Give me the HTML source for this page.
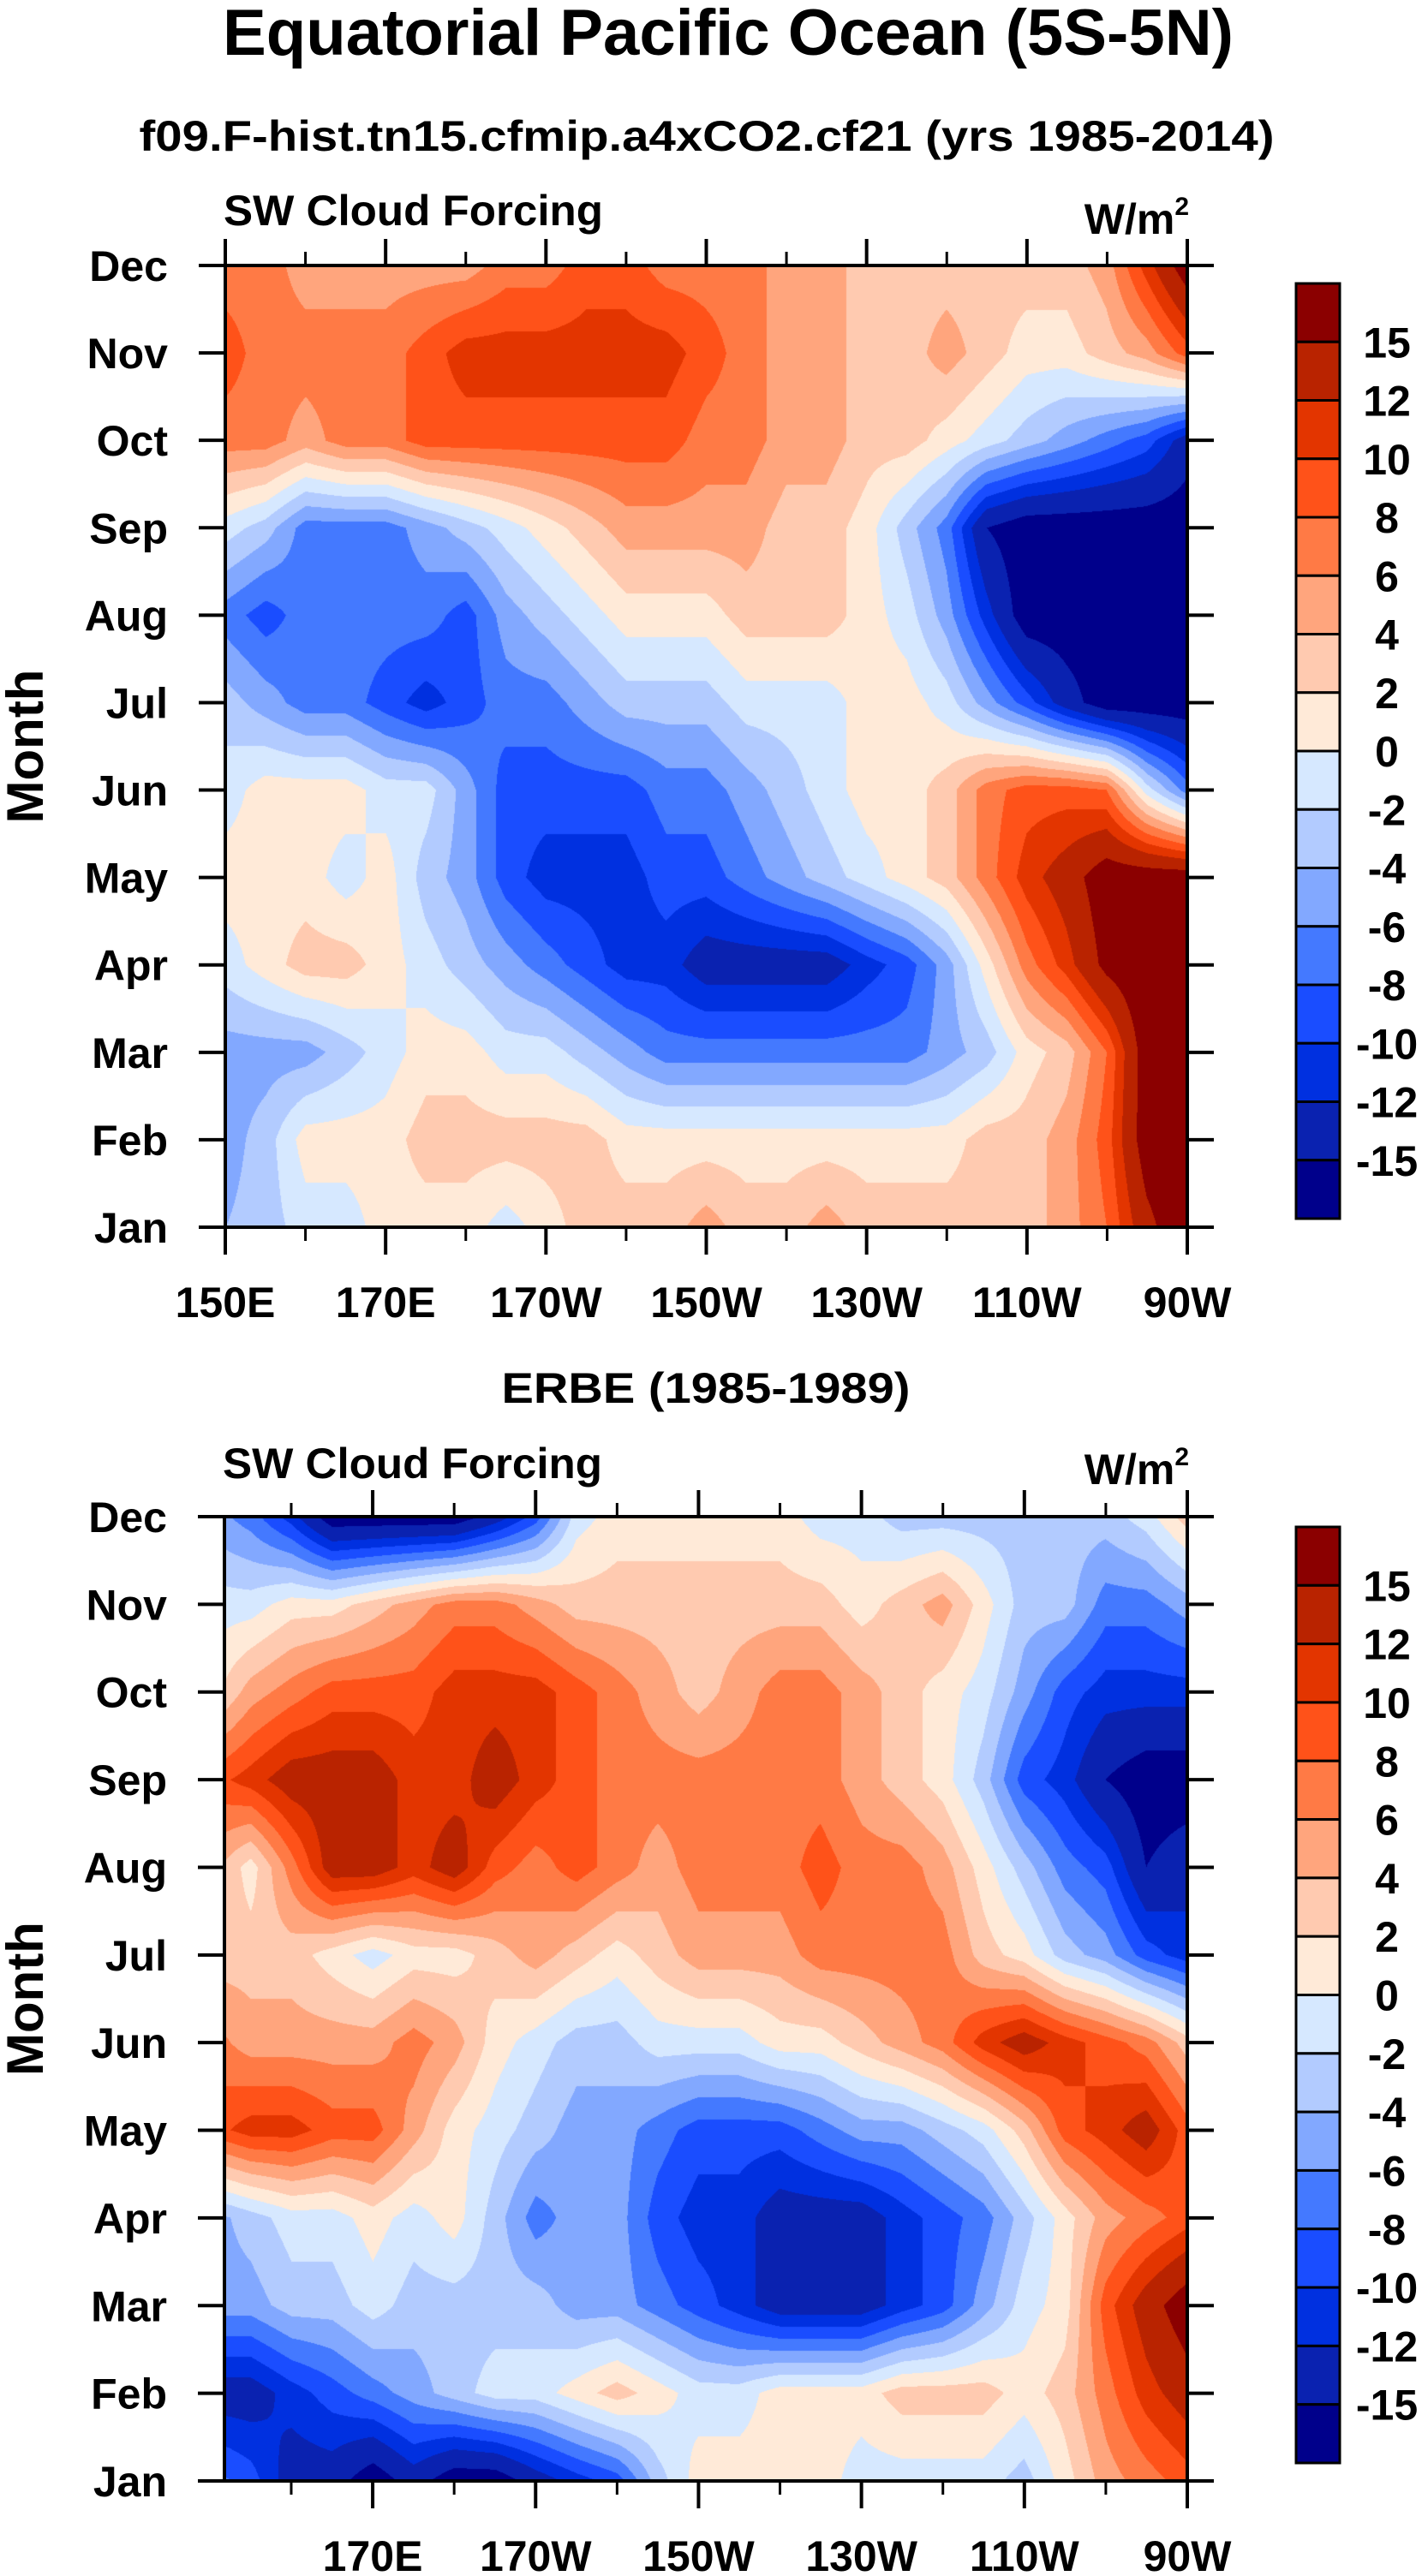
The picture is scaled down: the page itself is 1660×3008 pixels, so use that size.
<!DOCTYPE html>
<html><head><meta charset="utf-8"><title>Equatorial Pacific Ocean SW Cloud Forcing</title>
<style>
html,body{margin:0;padding:0;background:#fff;}
#wrap{position:relative;width:1660px;height:3008px;overflow:hidden;}
canvas{position:absolute;}
svg{position:absolute;left:0;top:0;}
text{font-family:"Liberation Sans",Arial,sans-serif;font-weight:bold;fill:#000;}
</style></head>
<body>
<div id="wrap">
<canvas id="c1" width="1123" height="1123" style="left:263px;top:310px"></canvas>
<canvas id="c2" width="1124" height="1126" style="left:262px;top:1771px"></canvas>
<svg id="ov" width="1660" height="3008" xmlns="http://www.w3.org/2000/svg">
<text x="850" y="64" font-size="76" text-anchor="middle" textLength="1180" lengthAdjust="spacingAndGlyphs">Equatorial Pacific Ocean (5S-5N)</text>
<text x="825" y="176" font-size="50" text-anchor="middle" textLength="1325" lengthAdjust="spacingAndGlyphs">f09.F-hist.tn15.cfmip.a4xCO2.cf21 (yrs 1985-2014)</text>
<text x="824" y="1638" font-size="50" text-anchor="middle" textLength="477" lengthAdjust="spacingAndGlyphs">ERBE (1985-1989)</text>
</svg>
</div>
<script>
// ---- data ----
var months = ["Jan","Feb","Mar","Apr","May","Jun","Jul","Aug","Sep","Oct","Nov","Dec"];
var lons = [150,155,160,165,170,175,180,185,190,195,200,205,210,215,220,225,230,235,240,245,250,255,260,265,270];
var levels = [-15,-12,-10,-8,-6,-4,-2,0,2,4,6,8,10,12,15];
var levelLabels = ["-15","-12","-10","-8","-6","-4","-2","0","2","4","6","8","10","12","15"];
var colors = ["#00008B","#0A22B0","#0030E0","#1A4DFF","#4479FF","#82A8FF","#B2CBFF","#D6E8FF","#FFEAD8","#FFCAB0","#FFA57D","#FF7A45","#FF5219","#E33500","#B92300","#8B0000"];
var xTickLons = [150,170,190,210,230,250,270];
var xTickLabels = ["150E","170E","170W","150W","130W","110W","90W"];
var xMinorLons = [160,180,200,220,240,260];
// model SWCF, rows Jan..Dec, columns = lons
var modelJan=[-4,-3,-1,-1,1,1,1,-1,1,3,3,3,5,3,3,5,3,3,3,3,3,5,8,14,18];
var modelFeb=[-5,-3,1,1,1,3,3,3,3,3,1,1,1,1,1,1,1,1,1,3,3,5,9,17,18];
var modelMar=[-5,-5,-5,-3,-1,1,1,-1,-1,-3,-5,-7,-7,-7,-7,-7,-7,-7,-5,-3,1,3,8,17,18];
var modelApr=[-1,1,3,3,1,-1,-3,-5,-7,-9,-11,-11,-13.5,-13.5,-13.5,-13.5,-11,-9,-5,1,7,11,16,18,18];
var modelMay=[1,1,1,-1,1,-3,-5,-9,-11,-11,-11,-9,-9,-7,-5,-3,-1,1,3,7,11,13.5,17,17,17];
var modelJun=[-1,1,1,1,-1,-1,-5,-9,-9,-9,-9,-7,-7,-5,-3,-1,1,1,3,7,9,9,8,-1,-7];
var modelJul=[-3,-5,-7,-7,-9,-11,-9,-7,-7,-5,-3,-3,-3,-1,-1,-1,1,1,-1,-5,-9,-13.5,-17,-17,-17];
var modelAug=[-7,-9,-7,-7,-7,-7,-9,-5,-3,-1,1,1,1,3,3,3,1,-1,-5,-11,-17,-17,-17,-17,-17];
var modelSep=[-1,-3,-7,-7,-7,-5,-3,-1,1,3,5,5,5,5,3,3,1,-3,-7,-15,-17,-17,-17,-17,-17];
var modelOct=[7,7,5,7,7,9,9,9,9,9,9,9,7,7,5,5,3,3,1,-1,-3,-5,-7,-9,-13.5];
var modelNov=[9,7,7,7,7,9,11,11,11,11,11,11,9,7,5,5,3,3,5,3,1,1,3,5,9];
var modelDec=[7,7,5,5,5,5,5,7,7,9,9,7,7,7,5,5,3,3,3,3,3,3,5,11,17];
// ERBE SWCF
var erbeJan=[-7,-9,-13.5,-13.5,-17,-13.5,-17,-17,-13.5,-11,-9,-3,1,1,1,1,-1,-1,-1,-1,-3,1,5,7,9];
var erbeFeb=[-13.5,-13.5,-11,-9,-7,-5,-3,-1,-1,1,3,1,-1,-1,1,1,1,3,3,3,1,3,7,11,13.5];
var erbeMar=[-5,-5,-3,-3,-1,-3,-3,-3,-3,-5,-5,-7,-9,-11,-13.5,-13.5,-13.5,-11,-9,-5,-1,1,9,13.5,17];
var erbeApr=[-5,-3,-1,-1,1,-1,1,-3,-7,-5,-5,-9,-11,-11,-13.5,-13.5,-13.5,-11,-9,-7,-3,1,5,7,9];
var erbeMay=[9,11,11,9,9,5,1,-1,-3,-5,-5,-7,-9,-9,-9,-7,-5,-5,-3,-1,3,9,11,13.5,9];
var erbeJun=[7,5,5,5,5,7,5,1,-1,-3,-3,-1,-1,-1,1,1,3,5,7,11,13.5,11,9,7,3];
var erbeJul=[3,3,3,1,-1,1,1,3,5,3,1,3,5,5,5,7,7,7,7,3,1,-3,-5,-9,-11];
var erbeAug=[5,1,7,13.5,13.5,11,13.5,9,7,9,7,5,7,7,7,9,7,7,5,1,-3,-7,-9,-15,-13];
var erbeSep=[9,11,13.5,13.5,13.5,11,11,13.5,11,9,7,7,7,7,7,7,5,3,1,-3,-9,-11,-15,-17,-17];
var erbeOct=[1,5,7,9,9,9,11,11,11,9,7,5,3,5,7,7,5,3,1,-1,-5,-9,-11,-11,-11];
var erbeNov=[-1,-1,1,1,3,5,7,7,5,3,3,3,3,3,3,3,1,3,5,1,-3,-3,-7,-7,-5];
var erbeDec=[-5,-7,-11,-17,-17,-17,-17,-13.5,-9,-1,1,1,1,1,1,-1,-1,-3,-3,-3,-3,-3,-3,-1,3];

var modelRows=[modelJan,modelFeb,modelMar,modelApr,modelMay,modelJun,modelJul,modelAug,modelSep,modelOct,modelNov,modelDec];
var erbeRows=[erbeJan,erbeFeb,erbeMar,erbeApr,erbeMay,erbeJun,erbeJul,erbeAug,erbeSep,erbeOct,erbeNov,erbeDec];

var NS="http://www.w3.org/2000/svg";
var svg=document.getElementById('ov');

function hex(c){return [parseInt(c.substr(1,2),16),parseInt(c.substr(3,2),16),parseInt(c.substr(5,2),16)];}
var rgb=colors.map(hex);
function levelIndex(v){var i=0;while(i<levels.length&&v>=levels[i])i++;return i;}

function sample(rows,lon,m){
  var fi=(lon-lons[0])/(lons[1]-lons[0]);
  if(fi<0)fi=0; if(fi>lons.length-1)fi=lons.length-1;
  var i0=Math.floor(fi); if(i0>=lons.length-1)i0=lons.length-2; var tx=fi-i0;
  var mj=m; if(mj<0)mj=0; if(mj>11)mj=11;
  var j0=Math.floor(mj); if(j0>=11)j0=10; var ty=mj-j0;
  var a=rows[j0][i0],b=rows[j0][i0+1],c=rows[j0+1][i0],d=rows[j0+1][i0+1];
  return (a*(1-tx)+b*tx)*(1-ty)+(c*(1-tx)+d*tx)*ty;
}

function drawMap(id,rows,lonMin,lonMax){
  var cv=document.getElementById(id),ctx=cv.getContext('2d');
  var W=cv.width,H=cv.height,img=ctx.createImageData(W,H),p=img.data;
  for(var y=0;y<H;y++){
    var m=11*(1-y/(H-1));
    for(var x=0;x<W;x++){
      var lon=lonMin+(lonMax-lonMin)*x/(W-1);
      var c=rgb[levelIndex(sample(rows,lon,m))];
      var k=(y*W+x)*4;p[k]=c[0];p[k+1]=c[1];p[k+2]=c[2];p[k+3]=255;
    }
  }
  ctx.putImageData(img,0,0);
}

function el(tag,attrs,parent){var e=document.createElementNS(NS,tag);for(var k in attrs)e.setAttribute(k,attrs[k]);(parent||svg).appendChild(e);return e;}

function drawAxes(P){
  var g=el('g',{});
  
  
  function xs(lon){return P.left+(lon-P.lonMin)/(P.lonMax-P.lonMin)*(P.right-P.left);}
  function ys(i){return P.bottom-i*(P.bottom-P.top)/11;}
  var frame=el('rect',{x:P.left,y:P.top,width:P.right-P.left,height:P.bottom-P.top,fill:'none',stroke:'#000','stroke-width':4},g);
  
  
  for(var i=0;i<months.length;i++){
    var y=ys(i);
    var t1=el('line',{x1:P.left-31,x2:P.left,y1:y,y2:y,stroke:'#000','stroke-width':4},g);
    
    
    var t2=el('line',{x1:P.right,x2:P.right+31,y1:y,y2:y,stroke:'#000','stroke-width':4},g);
    
    
    var tl=el('text',{x:P.left-67,y:y+18,'font-size':50,'text-anchor':'end'},g);
    tl.textContent=months[i];
    
    
  }
  for(var j=0;j<xTickLons.length;j++){
    var lon=xTickLons[j]; if(lon<P.lonMin-0.01)continue;
    var x=xs(lon);
    var a=el('line',{x1:x,x2:x,y1:P.top-31,y2:P.top,stroke:'#000','stroke-width':4},g);
    
    
    var b=el('line',{x1:x,x2:x,y1:P.bottom,y2:P.bottom+32,stroke:'#000','stroke-width':4},g);
    
    
    var lt=el('text',{x:x,y:P.bottom+105,'font-size':50,'text-anchor':'middle'},g);
    lt.textContent=xTickLabels[j];
    
    
  }
  for(var k=0;k<xMinorLons.length;k++){
    var xm=xs(xMinorLons[k]);
    var c=el('line',{x1:xm,x2:xm,y1:P.top-16,y2:P.top,stroke:'#000','stroke-width':3},g);
    
    
    var d=el('line',{x1:xm,x2:xm,y1:P.bottom,y2:P.bottom+16,stroke:'#000','stroke-width':3},g);
    
    
  }
  var yt=el('text',{x:0,y:0,'font-size':60,'text-anchor':'middle',transform:'translate(50,'+((P.top+P.bottom)/2)+') rotate(-90)'},g);
  yt.textContent='Month';
  
  
  var lt2=el('text',{x:P.left-2,y:P.labelY,'font-size':50,textLength:443,lengthAdjust:'spacingAndGlyphs'},g);
  lt2.textContent='SW Cloud Forcing';
  
  
  var un=el('text',{x:P.right+2,y:P.unitY,'font-size':50,'text-anchor':'end'},g);
  un.textContent='W/m';
  var sup=el('tspan',{'font-size':30,dy:-22},un); sup.textContent='2';
  
  
  // colorbar
  var cb=el('g',{},g);
  
  
  var bh=P.cbH/colors.length;
  for(var n=0;n<colors.length;n++){
    var idx=colors.length-1-n;
    var r=el('rect',{x:1513,y:P.cbTop+n*bh,width:51,height:bh,fill:colors[idx],stroke:'#000','stroke-width':3},cb);
    
    
  }
  for(var q=0;q<levelLabels.length;q++){
    var li=levelLabels.length-1-q;
    var tx=el('text',{x:1619,y:P.cbTop+(q+1)*bh+18,'font-size':50,'text-anchor':'middle'},cb);
    tx.textContent=levelLabels[li];
    
    
  }
}

drawMap('c1',modelRows,150,270);
drawMap('c2',erbeRows,151.8,270);
drawAxes({name:'model-panel',left:263,right:1386,top:310,bottom:1433,lonMin:150,lonMax:270,labelY:263,unitY:273,cbTop:331,cbH:1092});
drawAxes({name:'erbe-panel',left:262,right:1386,top:1771,bottom:2897,lonMin:151.8,lonMax:270,labelY:1726,unitY:1733,cbTop:1783,cbH:1093});
</script>
</body></html>
